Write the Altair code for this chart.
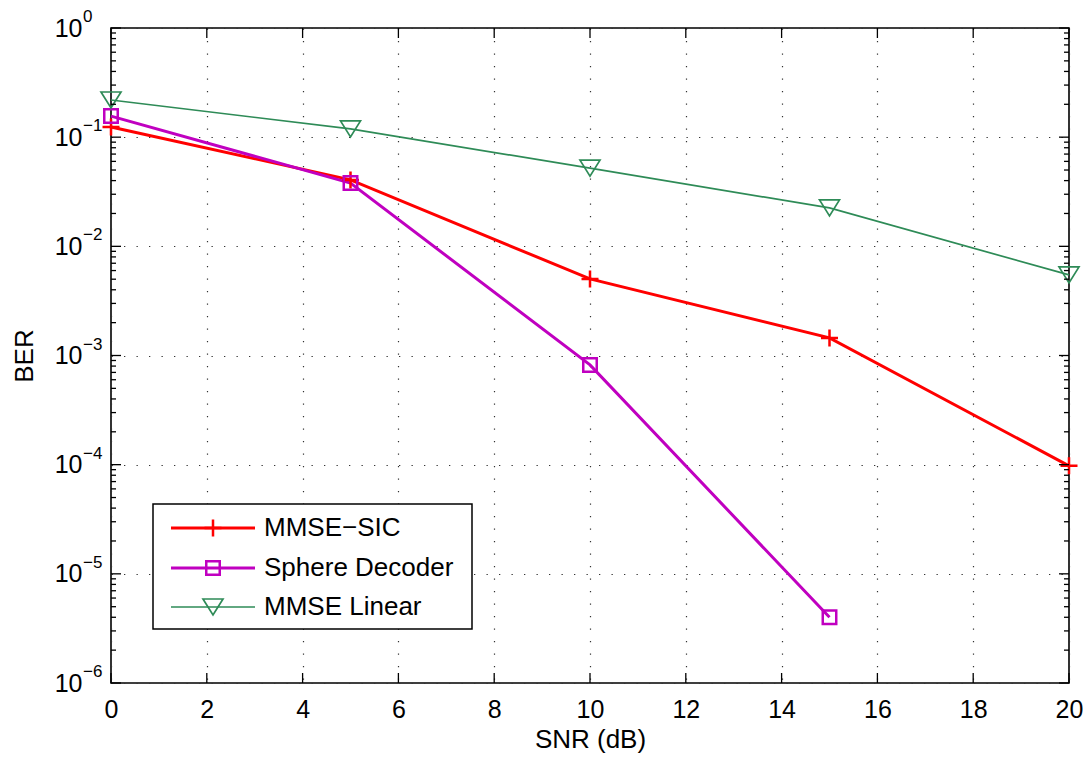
import altair as alt
import pandas as pd

# ---- data ----
snr = [0, 5, 10, 15, 20]
ber_sic = [0.124, 0.0406, 0.00503, 0.00145, 0.0000975]
snr_sd = [0, 5, 10, 15]
ber_sd = [0.156, 0.038, 0.00082, 0.0000040]
ber_lin = [0.219, 0.119, 0.052, 0.0225, 0.00547]
names = ["MMSE\u2212SIC", "Sphere Decoder", "MMSE Linear"]
colors = ["#FF0000", "#C000C0", "#2E8B57"]
x_ticks = [0, 2, 4, 6, 8, 10, 12, 14, 16, 18, 20]
y_exponents = [0, -1, -2, -3, -4, -5, -6]
minor_mult = [2, 3, 4, 5, 6, 7, 8, 9]

W, H = 958, 655
FONT = "Liberation Sans"
CROSS = "M-1,0H1M0,-1V1"
TRI_DOWN = "M-1,-0.8L1,-0.8L0,0.8Z"

xs = alt.Scale(domain=[0, 20], nice=False, zero=False)
ys = alt.Scale(type="log", domain=[1e-6, 1], nice=False)

df_sic = pd.DataFrame({"snr": snr, "ber": ber_sic})
df_sd = pd.DataFrame({"snr": snr_sd, "ber": ber_sd})
df_lin = pd.DataFrame({"snr": snr, "ber": ber_lin})

grid_kw = dict(grid=True, gridDash=[1.3, 11.2], gridColor="#333333", gridWidth=1.2,
               ticks=False, domain=False, labelFont=FONT,
               labelColor="black", labelFlush=False, labelOverlap=False,
               titleFont=FONT, titleFontSize=26, titleFontWeight="normal", titleColor="black")

x_axis = alt.Axis(values=x_ticks, labelFontSize=25, labelPadding=14,
                  title="SNR (dB)", titleX=W / 2, titleY=64, titleBaseline="alphabetic",
                  titleAlign="center", **grid_kw)
y_axis = alt.Axis(values=[10.0 ** k for k in y_exponents], labelExpr="'10'",
                  labelFontSize=25, labelPadding=29,
                  title="BER", titleX=-79, titleY=H / 2, titleAngle=-90,
                  titleBaseline="alphabetic", titleAlign="center", **grid_kw)

line_sic = alt.Chart(df_sic).mark_line(color=colors[0], strokeWidth=3).encode(
    x=alt.X("snr:Q", scale=xs, axis=x_axis),
    y=alt.Y("ber:Q", scale=ys, axis=y_axis))
line_sd = alt.Chart(df_sd).mark_line(color=colors[1], strokeWidth=3).encode(
    x=alt.X("snr:Q", scale=xs),
    y=alt.Y("ber:Q", scale=ys))
line_lin = alt.Chart(df_lin).mark_line(color=colors[2], strokeWidth=1.7).encode(
    x=alt.X("snr:Q", scale=xs),
    y=alt.Y("ber:Q", scale=ys))

def pts(df, shape, size, color, sw):
    return alt.Chart(df).mark_point(shape=shape, size=size, filled=False, color=color,
                                    strokeWidth=sw, opacity=1).encode(
        x=alt.X("snr:Q", scale=xs),
        y=alt.Y("ber:Q", scale=ys))

pts_sic = pts(df_sic, CROSS, 289, colors[0], 2.5)
pts_sd = pts(df_sd, "square", 182, colors[1], 2.5)
pts_lin = pts(df_lin, TRI_DOWN, 400, colors[2], 1.7)

# ---- inward ticks on all sides ----
ymaj = pd.DataFrame({"ber": [10.0 ** k for k in y_exponents]})
ymin = pd.DataFrame({"ber": [m * 10.0 ** k for k in range(-6, 0) for m in minor_mult]})
xmaj = pd.DataFrame({"snr": x_ticks})

def ytick(df, x0, x1):
    return alt.Chart(df).mark_rule(color="black", strokeWidth=1.3).encode(
        y=alt.Y("ber:Q", scale=ys), x=alt.value(x0), x2=alt.value(x1))

def xtick(y0, y1):
    return alt.Chart(xmaj).mark_rule(color="black", strokeWidth=1.3).encode(
        x=alt.X("snr:Q", scale=xs), y=alt.value(y0), y2=alt.value(y1))

ticks = [ytick(ymaj, 0, 10), ytick(ymaj, W, W - 10), ytick(ymin, 0, 5), ytick(ymin, W, W - 5),
         xtick(H, H - 10), xtick(0, 10)]

# ---- exponent superscripts for the 10^k labels ----
df_exp = pd.DataFrame({"ber": [10.0 ** k for k in y_exponents],
                       "lab": ["0" if k == 0 else "\u2212" + str(-k) for k in y_exponents]})
exps = alt.Chart(df_exp).mark_text(align="left", baseline="middle", dy=-11, fontSize=17,
                                   font=FONT, color="black").encode(
    x=alt.value(-28), y=alt.Y("ber:Q", scale=ys), text="lab:N")

# ---- legend ----
dummy = pd.DataFrame({"d": [0]})
legend_box = alt.Chart(dummy).mark_rect(fill="white", stroke="black", strokeWidth=1.5).encode(
    x=alt.value(42), x2=alt.value(361), y=alt.value(476), y2=alt.value(601))
rows = [500, 540, 579]
lw = [3, 3, 1.7]
shapes = [(CROSS, 289, 2.5), ("square", 182, 2.5), (TRI_DOWN, 400, 1.7)]
legend_layers = [legend_box]
for name, col, r, w, (shp, sz, sw) in zip(names, colors, rows, lw, shapes):
    legend_layers.append(alt.Chart(dummy).mark_rule(color=col, strokeWidth=w).encode(
        x=alt.value(60), x2=alt.value(144), y=alt.value(r)))
    legend_layers.append(alt.Chart(dummy).mark_point(shape=shp, size=sz, filled=False, color=col,
                                                     strokeWidth=sw, opacity=1).encode(
        x=alt.value(102), y=alt.value(r)))
    legend_layers.append(alt.Chart(dummy).mark_text(align="left", baseline="middle", fontSize=26,
                                                    font=FONT, color="black").encode(
        x=alt.value(153), y=alt.value(r), text=alt.value(name)))

chart = alt.layer(line_sic, line_sd, line_lin, pts_sic, pts_sd, pts_lin, *ticks, exps,
                  *legend_layers).properties(
    width=W, height=H,
    autosize=alt.AutoSizeParams(type="none"),
    padding={"left": 103, "top": 20, "right": 14, "bottom": 70},
    background="white",
).configure_view(stroke="black", strokeWidth=1.6)

chart.save("out.html", embed_options={"renderer": "svg", "actions": False})
